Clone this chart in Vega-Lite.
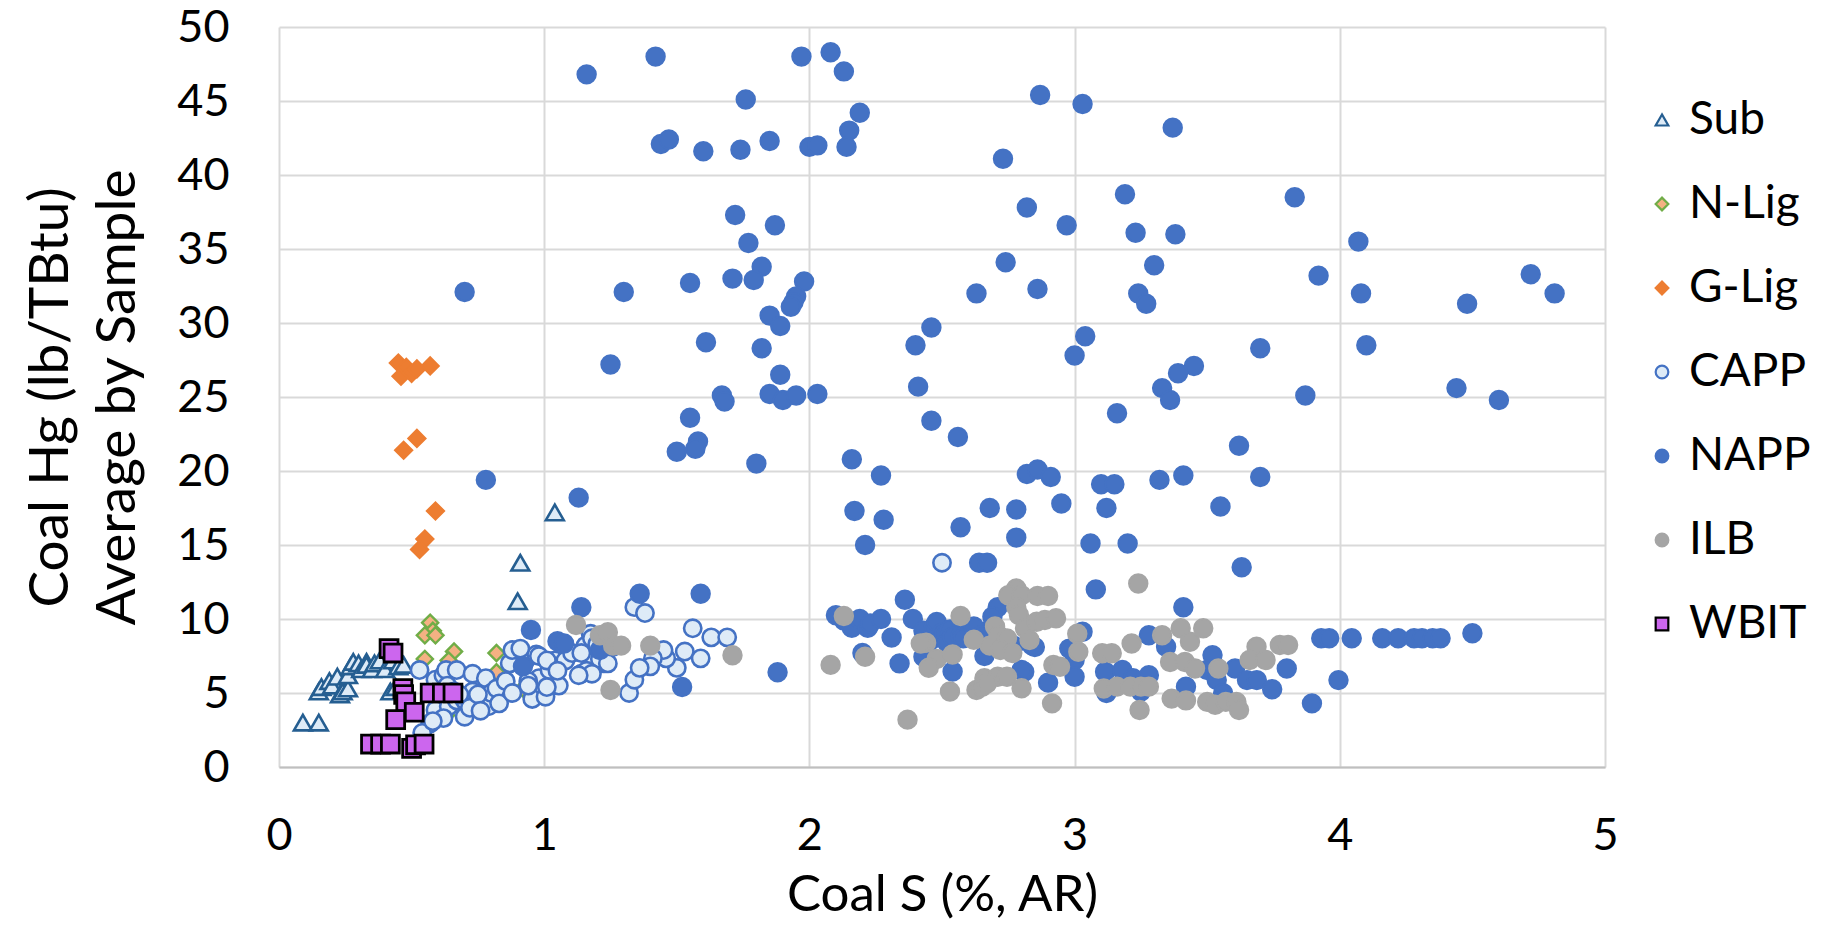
{
  "$schema": "https://vega.github.io/schema/vega-lite/v6.json",
  "width": 1326,
  "height": 740,
  "autosize": {"type": "none"},
  "padding": {"left": 279, "top": 27, "right": 232, "bottom": 163},
  "background": "white",
  "config": {
    "view": {"stroke": null},
    "axis": {
      "labelFont": "Lato", "labelFontSize": 45, "labelColor": "#000000", "labelFlush": false,
      "titleFont": "Lato", "titleFontSize": 51, "titleFontWeight": "normal", "titleColor": "#000000",
      "gridColor": "#D9D9D9", "gridWidth": 2, "ticks": false,
      "domainColor": "#BFBFBF", "domainWidth": 2
    },
    "legend": {
      "labelFont": "Lato", "labelFontSize": 46, "labelColor": "#000000",
      "symbolSize": 160, "symbolStrokeWidth": 2.2, "rowPadding": 38, "labelOffset": 4
    }
  },
  "data": {
    "values": [
      {"t":"Sub","s":0.09,"hg":3.0},{"t":"Sub","s":0.15,"hg":3.0},{"t":"Sub","s":0.15,"hg":5.1},{"t":"Sub","s":0.16,"hg":5.4},
      {"t":"Sub","s":0.19,"hg":5.8},{"t":"Sub","s":0.20,"hg":5.5},{"t":"Sub","s":0.22,"hg":6.1},{"t":"Sub","s":0.23,"hg":4.9},
      {"t":"Sub","s":0.24,"hg":5.1},{"t":"Sub","s":0.26,"hg":5.3},{"t":"Sub","s":0.26,"hg":6.2},{"t":"Sub","s":0.27,"hg":6.8},
      {"t":"Sub","s":0.28,"hg":7.1},{"t":"Sub","s":0.30,"hg":7.0},{"t":"Sub","s":0.31,"hg":6.6},{"t":"Sub","s":0.33,"hg":7.1},
      {"t":"Sub","s":0.33,"hg":6.9},{"t":"Sub","s":0.35,"hg":6.6},{"t":"Sub","s":0.36,"hg":7.0},{"t":"Sub","s":0.38,"hg":7.2},
      {"t":"Sub","s":0.40,"hg":6.6},{"t":"Sub","s":0.42,"hg":5.1},{"t":"Sub","s":0.43,"hg":7.2},{"t":"Sub","s":0.44,"hg":5.4},
      {"t":"Sub","s":0.45,"hg":6.8},{"t":"Sub","s":0.47,"hg":6.9},{"t":"Sub","s":0.90,"hg":11.2},{"t":"Sub","s":0.91,"hg":13.8},
      {"t":"Sub","s":1.04,"hg":17.2},
      {"t":"N-Lig","s":0.57,"hg":9.75},{"t":"N-Lig","s":0.58,"hg":9.2},{"t":"N-Lig","s":0.55,"hg":8.9},{"t":"N-Lig","s":0.59,"hg":8.9},
      {"t":"N-Lig","s":0.55,"hg":7.3},{"t":"N-Lig","s":0.66,"hg":7.8},{"t":"N-Lig","s":0.64,"hg":7.2},{"t":"N-Lig","s":0.82,"hg":7.7},
      {"t":"N-Lig","s":0.63,"hg":3.5},{"t":"N-Lig","s":0.82,"hg":6.4},{"t":"N-Lig","s":0.92,"hg":5.3},
      {"t":"G-Lig","s":0.45,"hg":27.3},{"t":"G-Lig","s":0.46,"hg":26.4},{"t":"G-Lig","s":0.48,"hg":27.0},{"t":"G-Lig","s":0.50,"hg":26.6},
      {"t":"G-Lig","s":0.52,"hg":26.9},{"t":"G-Lig","s":0.57,"hg":27.1},{"t":"G-Lig","s":0.47,"hg":21.4},{"t":"G-Lig","s":0.52,"hg":22.2},
      {"t":"G-Lig","s":0.59,"hg":17.3},{"t":"G-Lig","s":0.55,"hg":15.4},{"t":"G-Lig","s":0.53,"hg":14.7},
      {"t":"CAPP","s":0.53,"hg":6.55},{"t":"CAPP","s":0.59,"hg":5.9},{"t":"CAPP","s":0.62,"hg":6.2},{"t":"CAPP","s":0.63,"hg":6.55},
      {"t":"CAPP","s":0.67,"hg":6.55},{"t":"CAPP","s":0.635,"hg":5.5},{"t":"CAPP","s":0.60,"hg":4.75},{"t":"CAPP","s":0.59,"hg":3.85},
      {"t":"CAPP","s":0.57,"hg":2.95},{"t":"CAPP","s":0.54,"hg":2.3},{"t":"CAPP","s":0.64,"hg":4.1},{"t":"CAPP","s":0.67,"hg":4.5},
      {"t":"CAPP","s":0.70,"hg":3.4},{"t":"CAPP","s":0.70,"hg":4.5},{"t":"CAPP","s":0.73,"hg":5.1},{"t":"CAPP","s":0.73,"hg":6.3},
      {"t":"CAPP","s":0.77,"hg":4.3},{"t":"CAPP","s":0.78,"hg":6.0},{"t":"CAPP","s":0.79,"hg":4.1},{"t":"CAPP","s":0.80,"hg":5.0},
      {"t":"CAPP","s":0.82,"hg":5.3},{"t":"CAPP","s":0.855,"hg":5.8},{"t":"CAPP","s":0.87,"hg":7.0},{"t":"CAPP","s":0.90,"hg":7.9},
      {"t":"CAPP","s":0.93,"hg":7.2},{"t":"CAPP","s":0.955,"hg":4.6},{"t":"CAPP","s":0.97,"hg":7.6},{"t":"CAPP","s":0.98,"hg":6.0},
      {"t":"CAPP","s":1.005,"hg":4.75},{"t":"CAPP","s":1.02,"hg":6.55},{"t":"CAPP","s":1.055,"hg":5.5},{"t":"CAPP","s":1.04,"hg":7.2},
      {"t":"CAPP","s":1.08,"hg":7.2},{"t":"CAPP","s":1.105,"hg":7.7},{"t":"CAPP","s":1.14,"hg":6.3},{"t":"CAPP","s":1.156,"hg":8.2},
      {"t":"CAPP","s":1.175,"hg":9.0},{"t":"CAPP","s":1.19,"hg":7.2},{"t":"CAPP","s":1.225,"hg":7.0},{"t":"CAPP","s":1.257,"hg":8.1},
      {"t":"CAPP","s":1.32,"hg":5.0},{"t":"CAPP","s":1.34,"hg":10.8},{"t":"CAPP","s":1.34,"hg":5.9},{"t":"CAPP","s":0.83,"hg":4.3},
      {"t":"CAPP","s":0.88,"hg":5.0},{"t":"CAPP","s":0.94,"hg":5.8},{"t":"CAPP","s":0.88,"hg":7.9},{"t":"CAPP","s":0.91,"hg":8.0},
      {"t":"CAPP","s":0.98,"hg":7.5},{"t":"CAPP","s":1.01,"hg":7.2},{"t":"CAPP","s":0.94,"hg":5.5},{"t":"CAPP","s":1.01,"hg":5.4},
      {"t":"CAPP","s":1.05,"hg":6.5},{"t":"CAPP","s":1.14,"hg":7.7},{"t":"CAPP","s":1.18,"hg":8.7},{"t":"CAPP","s":1.20,"hg":8.3},
      {"t":"CAPP","s":1.16,"hg":6.5},{"t":"CAPP","s":1.21,"hg":7.3},{"t":"CAPP","s":1.24,"hg":7.0},{"t":"CAPP","s":1.18,"hg":6.3},
      {"t":"CAPP","s":1.13,"hg":6.2},{"t":"CAPP","s":0.66,"hg":5.1},{"t":"CAPP","s":0.68,"hg":4.9},{"t":"CAPP","s":0.72,"hg":4.0},
      {"t":"CAPP","s":0.75,"hg":4.9},{"t":"CAPP","s":0.76,"hg":3.8},{"t":"CAPP","s":0.62,"hg":3.3},{"t":"CAPP","s":0.58,"hg":3.1},
      {"t":"CAPP","s":1.38,"hg":10.4},{"t":"CAPP","s":1.56,"hg":9.37},{"t":"CAPP","s":1.63,"hg":8.76},{"t":"CAPP","s":1.69,"hg":8.76},
      {"t":"CAPP","s":1.53,"hg":7.8},{"t":"CAPP","s":1.59,"hg":7.34},{"t":"CAPP","s":1.50,"hg":6.7},{"t":"CAPP","s":1.46,"hg":7.34},
      {"t":"CAPP","s":1.45,"hg":7.9},{"t":"CAPP","s":1.41,"hg":7.34},{"t":"CAPP","s":1.40,"hg":6.8},{"t":"CAPP","s":1.36,"hg":6.7},
      {"t":"CAPP","s":2.50,"hg":13.8},
      {"t":"NAPP","s":1.16,"hg":46.8},{"t":"NAPP","s":1.42,"hg":48.0},{"t":"NAPP","s":1.76,"hg":45.1},{"t":"NAPP","s":1.97,"hg":48.0},
      {"t":"NAPP","s":2.08,"hg":48.3},{"t":"NAPP","s":2.13,"hg":47.0},{"t":"NAPP","s":2.19,"hg":44.2},{"t":"NAPP","s":2.15,"hg":43.0},
      {"t":"NAPP","s":2.14,"hg":41.9},{"t":"NAPP","s":2.00,"hg":41.9},{"t":"NAPP","s":2.03,"hg":42.0},{"t":"NAPP","s":1.44,"hg":42.1},
      {"t":"NAPP","s":1.47,"hg":42.4},{"t":"NAPP","s":1.60,"hg":41.6},{"t":"NAPP","s":1.74,"hg":41.7},{"t":"NAPP","s":1.85,"hg":42.3},
      {"t":"NAPP","s":2.87,"hg":45.4},{"t":"NAPP","s":3.03,"hg":44.8},{"t":"NAPP","s":3.37,"hg":43.2},{"t":"NAPP","s":2.73,"hg":41.1},
      {"t":"NAPP","s":3.19,"hg":38.7},{"t":"NAPP","s":3.83,"hg":38.5},{"t":"NAPP","s":1.72,"hg":37.3},{"t":"NAPP","s":1.87,"hg":36.6},
      {"t":"NAPP","s":2.82,"hg":37.8},{"t":"NAPP","s":2.97,"hg":36.6},{"t":"NAPP","s":3.23,"hg":36.1},{"t":"NAPP","s":3.38,"hg":36.0},
      {"t":"NAPP","s":4.07,"hg":35.5},{"t":"NAPP","s":1.77,"hg":35.4},{"t":"NAPP","s":1.82,"hg":33.8},{"t":"NAPP","s":1.79,"hg":32.9},
      {"t":"NAPP","s":1.71,"hg":33.0},{"t":"NAPP","s":1.55,"hg":32.7},{"t":"NAPP","s":1.30,"hg":32.1},{"t":"NAPP","s":1.98,"hg":32.8},
      {"t":"NAPP","s":1.95,"hg":31.8},{"t":"NAPP","s":1.94,"hg":31.4},{"t":"NAPP","s":1.93,"hg":31.1},{"t":"NAPP","s":1.85,"hg":30.5},
      {"t":"NAPP","s":1.89,"hg":29.8},{"t":"NAPP","s":0.70,"hg":32.1},{"t":"NAPP","s":2.63,"hg":32.0},{"t":"NAPP","s":2.74,"hg":34.1},
      {"t":"NAPP","s":2.86,"hg":32.3},{"t":"NAPP","s":3.24,"hg":32.0},{"t":"NAPP","s":3.27,"hg":31.3},{"t":"NAPP","s":3.30,"hg":33.9},
      {"t":"NAPP","s":3.92,"hg":33.2},{"t":"NAPP","s":4.08,"hg":32.0},{"t":"NAPP","s":4.72,"hg":33.3},{"t":"NAPP","s":4.81,"hg":32.0},
      {"t":"NAPP","s":4.48,"hg":31.3},{"t":"NAPP","s":1.61,"hg":28.7},{"t":"NAPP","s":1.82,"hg":28.3},{"t":"NAPP","s":2.40,"hg":28.5},
      {"t":"NAPP","s":2.46,"hg":29.7},{"t":"NAPP","s":3.04,"hg":29.1},{"t":"NAPP","s":3.00,"hg":27.8},{"t":"NAPP","s":3.70,"hg":28.3},
      {"t":"NAPP","s":4.10,"hg":28.5},{"t":"NAPP","s":1.25,"hg":27.2},{"t":"NAPP","s":3.45,"hg":27.1},{"t":"NAPP","s":3.39,"hg":26.6},
      {"t":"NAPP","s":3.33,"hg":25.6},{"t":"NAPP","s":3.36,"hg":24.8},{"t":"NAPP","s":4.44,"hg":25.6},{"t":"NAPP","s":4.60,"hg":24.8},
      {"t":"NAPP","s":3.87,"hg":25.1},{"t":"NAPP","s":2.41,"hg":25.7},{"t":"NAPP","s":1.89,"hg":26.5},{"t":"NAPP","s":1.85,"hg":25.2},
      {"t":"NAPP","s":1.90,"hg":24.8},{"t":"NAPP","s":1.95,"hg":25.1},{"t":"NAPP","s":2.03,"hg":25.2},{"t":"NAPP","s":1.67,"hg":25.1},
      {"t":"NAPP","s":1.68,"hg":24.7},{"t":"NAPP","s":1.55,"hg":23.6},{"t":"NAPP","s":3.16,"hg":23.9},{"t":"NAPP","s":2.46,"hg":23.4},
      {"t":"NAPP","s":2.56,"hg":22.3},{"t":"NAPP","s":1.58,"hg":22.0},{"t":"NAPP","s":1.57,"hg":21.5},{"t":"NAPP","s":1.50,"hg":21.3},
      {"t":"NAPP","s":3.62,"hg":21.7},{"t":"NAPP","s":2.16,"hg":20.8},{"t":"NAPP","s":1.80,"hg":20.5},{"t":"NAPP","s":0.78,"hg":19.4},
      {"t":"NAPP","s":2.27,"hg":19.7},{"t":"NAPP","s":2.82,"hg":19.8},{"t":"NAPP","s":2.86,"hg":20.1},{"t":"NAPP","s":2.91,"hg":19.6},
      {"t":"NAPP","s":3.32,"hg":19.4},{"t":"NAPP","s":3.41,"hg":19.7},{"t":"NAPP","s":3.70,"hg":19.6},{"t":"NAPP","s":3.10,"hg":19.1},
      {"t":"NAPP","s":3.15,"hg":19.1},{"t":"NAPP","s":1.13,"hg":18.2},{"t":"NAPP","s":2.95,"hg":17.8},{"t":"NAPP","s":3.55,"hg":17.6},
      {"t":"NAPP","s":2.68,"hg":17.5},{"t":"NAPP","s":2.78,"hg":17.4},{"t":"NAPP","s":3.12,"hg":17.5},{"t":"NAPP","s":2.17,"hg":17.3},
      {"t":"NAPP","s":2.28,"hg":16.7},{"t":"NAPP","s":2.57,"hg":16.2},{"t":"NAPP","s":2.21,"hg":15.0},{"t":"NAPP","s":2.78,"hg":15.5},
      {"t":"NAPP","s":3.06,"hg":15.1},{"t":"NAPP","s":3.20,"hg":15.1},{"t":"NAPP","s":2.64,"hg":13.8},{"t":"NAPP","s":2.67,"hg":13.8},
      {"t":"NAPP","s":3.63,"hg":13.5},{"t":"NAPP","s":3.08,"hg":12.0},{"t":"NAPP","s":2.36,"hg":11.3},{"t":"NAPP","s":1.36,"hg":11.7},
      {"t":"NAPP","s":1.59,"hg":11.7},{"t":"NAPP","s":1.14,"hg":10.8},{"t":"NAPP","s":3.41,"hg":10.8},
      {"t":"NAPP","s":0.95,"hg":9.26},{"t":"NAPP","s":1.05,"hg":8.5},{"t":"NAPP","s":1.075,"hg":8.35},{"t":"NAPP","s":0.92,"hg":6.8},
      {"t":"NAPP","s":1.21,"hg":7.9},{"t":"NAPP","s":1.52,"hg":5.4},{"t":"NAPP","s":1.88,"hg":6.4},
      {"t":"NAPP","s":2.10,"hg":10.25},{"t":"NAPP","s":2.13,"hg":9.9},{"t":"NAPP","s":2.16,"hg":9.4},{"t":"NAPP","s":2.19,"hg":10.0},
      {"t":"NAPP","s":2.22,"hg":9.4},{"t":"NAPP","s":2.23,"hg":9.7},{"t":"NAPP","s":2.27,"hg":10.0},{"t":"NAPP","s":2.31,"hg":8.75},
      {"t":"NAPP","s":2.34,"hg":7.0},{"t":"NAPP","s":2.39,"hg":10.0},{"t":"NAPP","s":2.43,"hg":9.2},{"t":"NAPP","s":2.43,"hg":7.45},
      {"t":"NAPP","s":2.46,"hg":8.6},{"t":"NAPP","s":2.47,"hg":9.5},{"t":"NAPP","s":2.48,"hg":9.8},{"t":"NAPP","s":2.50,"hg":9.05},
      {"t":"NAPP","s":2.51,"hg":9.0},{"t":"NAPP","s":2.52,"hg":8.4},{"t":"NAPP","s":2.53,"hg":9.3},{"t":"NAPP","s":2.54,"hg":8.8},
      {"t":"NAPP","s":2.54,"hg":6.45},{"t":"NAPP","s":2.57,"hg":8.85},{"t":"NAPP","s":2.59,"hg":9.0},{"t":"NAPP","s":2.44,"hg":7.6},
      {"t":"NAPP","s":2.20,"hg":7.7},
      {"t":"NAPP","s":2.61,"hg":9.03},{"t":"NAPP","s":2.58,"hg":8.7},{"t":"NAPP","s":2.66,"hg":7.5},{"t":"NAPP","s":2.81,"hg":6.44},
      {"t":"NAPP","s":2.90,"hg":5.7},{"t":"NAPP","s":2.85,"hg":8.1},{"t":"NAPP","s":2.77,"hg":8.2},{"t":"NAPP","s":2.71,"hg":10.8},
      {"t":"NAPP","s":2.69,"hg":10.15},{"t":"NAPP","s":3.03,"hg":9.14},{"t":"NAPP","s":2.98,"hg":8.0},{"t":"NAPP","s":3.00,"hg":7.23},
      {"t":"NAPP","s":3.00,"hg":6.1},{"t":"NAPP","s":3.115,"hg":6.44},{"t":"NAPP","s":3.18,"hg":6.55},{"t":"NAPP","s":3.22,"hg":6.0},
      {"t":"NAPP","s":3.28,"hg":6.2},{"t":"NAPP","s":3.25,"hg":5.1},{"t":"NAPP","s":3.12,"hg":5.0},{"t":"NAPP","s":3.28,"hg":8.9},
      {"t":"NAPP","s":3.345,"hg":8.13},{"t":"NAPP","s":3.42,"hg":5.43},{"t":"NAPP","s":3.52,"hg":7.56},{"t":"NAPP","s":3.50,"hg":6.55},
      {"t":"NAPP","s":3.536,"hg":5.87},{"t":"NAPP","s":3.56,"hg":4.98},{"t":"NAPP","s":3.605,"hg":6.66},{"t":"NAPP","s":3.65,"hg":5.87},
      {"t":"NAPP","s":3.687,"hg":5.87},{"t":"NAPP","s":3.745,"hg":5.25},{"t":"NAPP","s":3.80,"hg":6.66},{"t":"NAPP","s":3.895,"hg":4.3},
      {"t":"NAPP","s":2.68,"hg":9.3},{"t":"NAPP","s":2.62,"hg":9.5},{"t":"NAPP","s":2.65,"hg":8.9},{"t":"NAPP","s":2.80,"hg":6.55},
      {"t":"NAPP","s":2.84,"hg":8.2},
      {"t":"NAPP","s":3.93,"hg":8.7},{"t":"NAPP","s":3.96,"hg":8.7},{"t":"NAPP","s":4.045,"hg":8.7},{"t":"NAPP","s":4.16,"hg":8.7},
      {"t":"NAPP","s":4.22,"hg":8.7},{"t":"NAPP","s":4.28,"hg":8.7},{"t":"NAPP","s":4.31,"hg":8.7},{"t":"NAPP","s":4.35,"hg":8.7},
      {"t":"NAPP","s":4.38,"hg":8.7},{"t":"NAPP","s":4.50,"hg":9.04},{"t":"NAPP","s":3.995,"hg":5.87},
      {"t":"ILB","s":1.12,"hg":9.6},{"t":"ILB","s":1.21,"hg":8.9},{"t":"ILB","s":1.24,"hg":9.1},{"t":"ILB","s":1.26,"hg":8.2},
      {"t":"ILB","s":1.25,"hg":5.2},{"t":"ILB","s":1.29,"hg":8.2},{"t":"ILB","s":1.40,"hg":8.2},{"t":"ILB","s":1.71,"hg":7.55},
      {"t":"ILB","s":2.08,"hg":6.9},{"t":"ILB","s":2.13,"hg":10.2},{"t":"ILB","s":2.21,"hg":7.45},{"t":"ILB","s":2.37,"hg":3.2},
      {"t":"ILB","s":2.57,"hg":10.2},{"t":"ILB","s":2.44,"hg":8.4},{"t":"ILB","s":2.48,"hg":7.3},{"t":"ILB","s":2.45,"hg":6.7},
      {"t":"ILB","s":2.54,"hg":7.6},{"t":"ILB","s":2.53,"hg":5.1},{"t":"ILB","s":2.63,"hg":5.2},{"t":"ILB","s":2.62,"hg":8.6},
      {"t":"ILB","s":2.42,"hg":8.35},{"t":"ILB","s":2.65,"hg":5.4},{"t":"ILB","s":2.68,"hg":8.2},{"t":"ILB","s":2.66,"hg":6.0},
      {"t":"ILB","s":2.78,"hg":12.07},{"t":"ILB","s":2.75,"hg":11.6},{"t":"ILB","s":2.80,"hg":11.6},{"t":"ILB","s":2.86,"hg":11.55},
      {"t":"ILB","s":2.90,"hg":11.55},{"t":"ILB","s":2.78,"hg":10.8},{"t":"ILB","s":2.79,"hg":10.27},{"t":"ILB","s":2.70,"hg":9.5},
      {"t":"ILB","s":2.713,"hg":8.9},{"t":"ILB","s":2.745,"hg":8.69},{"t":"ILB","s":2.813,"hg":9.37},{"t":"ILB","s":2.857,"hg":9.82},
      {"t":"ILB","s":2.888,"hg":9.93},{"t":"ILB","s":2.93,"hg":10.05},{"t":"ILB","s":2.83,"hg":8.58},{"t":"ILB","s":2.72,"hg":7.9},
      {"t":"ILB","s":2.765,"hg":7.7},{"t":"ILB","s":2.71,"hg":6.1},{"t":"ILB","s":2.745,"hg":6.1},{"t":"ILB","s":2.67,"hg":5.66},
      {"t":"ILB","s":2.80,"hg":5.32},{"t":"ILB","s":2.915,"hg":4.3},{"t":"ILB","s":2.92,"hg":6.89},{"t":"ILB","s":2.945,"hg":6.77},
      {"t":"ILB","s":3.01,"hg":9.0},{"t":"ILB","s":3.014,"hg":7.79},{"t":"ILB","s":3.24,"hg":12.4},{"t":"ILB","s":3.104,"hg":7.68},
      {"t":"ILB","s":3.14,"hg":7.68},{"t":"ILB","s":3.11,"hg":5.3},{"t":"ILB","s":3.16,"hg":5.43},{"t":"ILB","s":3.21,"hg":5.43},
      {"t":"ILB","s":3.25,"hg":5.43},{"t":"ILB","s":3.28,"hg":5.43},{"t":"ILB","s":3.215,"hg":8.35},{"t":"ILB","s":3.245,"hg":3.85},
      {"t":"ILB","s":3.33,"hg":8.9},{"t":"ILB","s":3.40,"hg":9.37},{"t":"ILB","s":3.435,"hg":8.46},{"t":"ILB","s":3.485,"hg":9.37},
      {"t":"ILB","s":3.36,"hg":7.1},{"t":"ILB","s":3.416,"hg":7.1},{"t":"ILB","s":3.454,"hg":6.66},{"t":"ILB","s":3.366,"hg":4.62},
      {"t":"ILB","s":3.42,"hg":4.5},{"t":"ILB","s":3.542,"hg":6.66},{"t":"ILB","s":3.50,"hg":4.4},{"t":"ILB","s":3.53,"hg":4.2},
      {"t":"ILB","s":3.57,"hg":4.4},{"t":"ILB","s":3.61,"hg":4.4},{"t":"ILB","s":3.62,"hg":3.85},{"t":"ILB","s":3.686,"hg":8.13},
      {"t":"ILB","s":3.66,"hg":7.23},{"t":"ILB","s":3.72,"hg":7.23},{"t":"ILB","s":3.774,"hg":8.24},{"t":"ILB","s":3.805,"hg":8.24},
      {"t":"WBIT","s":0.415,"hg":8.0},{"t":"WBIT","s":0.43,"hg":7.7},{"t":"WBIT","s":0.467,"hg":5.3},{"t":"WBIT","s":0.47,"hg":4.9},
      {"t":"WBIT","s":0.478,"hg":4.4},{"t":"WBIT","s":0.51,"hg":3.7},{"t":"WBIT","s":0.44,"hg":3.2},{"t":"WBIT","s":0.57,"hg":5.0},
      {"t":"WBIT","s":0.616,"hg":5.0},{"t":"WBIT","s":0.656,"hg":5.0},{"t":"WBIT","s":0.345,"hg":1.55},{"t":"WBIT","s":0.383,"hg":1.55},
      {"t":"WBIT","s":0.42,"hg":1.55},{"t":"WBIT","s":0.50,"hg":1.26},{"t":"WBIT","s":0.515,"hg":1.5},{"t":"WBIT","s":0.547,"hg":1.55}
    ]
  },
  "encoding": {
    "x": {
      "field": "s", "type": "quantitative",
      "scale": {"domain": [0, 5], "nice": false},
      "axis": {"values": [0, 1, 2, 3, 4, 5], "title": "Coal S (%, AR)", "labelPadding": 46, "titlePadding": 12, "grid": true}
    },
    "y": {
      "field": "hg", "type": "quantitative",
      "scale": {"domain": [0, 50], "nice": false},
      "axis": {
        "values": [0, 5, 10, 15, 20, 25, 30, 35, 40, 45, 50],
        "title": ["Coal Hg (lb/TBtu)", "Average by Sample"],
        "titleFontSize": 55, "titleLineHeight": 67,
        "labelPadding": 50, "titlePadding": 30, "domain": false
      }
    },
    "shape": {
      "field": "t", "type": "nominal",
      "scale": {
        "domain": ["Sub", "N-Lig", "G-Lig", "CAPP", "NAPP", "ILB", "WBIT"],
        "range": ["triangle-up", "diamond", "diamond", "circle", "circle", "circle", "square"]
      },
      "legend": {"title": null, "orient": "none", "legendX": 1360, "legendY": 70}
    },
    "fill": {
      "field": "t", "type": "nominal",
      "scale": {
        "domain": ["Sub", "N-Lig", "G-Lig", "CAPP", "NAPP", "ILB", "WBIT"],
        "range": ["#DEEBF7", "#F4B183", "#ED7D31", "#DEEBF7", "#4472C4", "#A5A5A5", "#CC66EE"]
      },
      "legend": {"title": null, "orient": "none", "legendX": 1360, "legendY": 70}
    },
    "stroke": {
      "field": "t", "type": "nominal",
      "scale": {
        "domain": ["Sub", "N-Lig", "G-Lig", "CAPP", "NAPP", "ILB", "WBIT"],
        "range": ["#255E91", "#70AD47", "#ED7D31", "#4472C4", "#4472C4", "#A5A5A5", "#000000"]
      },
      "legend": {"title": null, "orient": "none", "legendX": 1360, "legendY": 70}
    }
  },
  "layer": [
    {"transform": [{"filter": "datum.t === 'Sub'"}], "mark": {"type": "point", "filled": true, "opacity": 1, "strokeWidth": 2.6, "size": 320}},
    {"transform": [{"filter": "datum.t === 'N-Lig'"}], "mark": {"type": "point", "filled": true, "opacity": 1, "strokeWidth": 2.4, "size": 260}},
    {"transform": [{"filter": "datum.t === 'G-Lig'"}], "mark": {"type": "point", "filled": true, "opacity": 1, "strokeWidth": 2, "size": 300}},
    {"transform": [{"filter": "datum.t === 'CAPP'"}], "mark": {"type": "point", "filled": true, "opacity": 1, "strokeWidth": 2.6, "size": 300}},
    {"transform": [{"filter": "datum.t === 'NAPP'"}], "mark": {"type": "point", "filled": true, "opacity": 1, "strokeWidth": 2, "size": 340}},
    {"transform": [{"filter": "datum.t === 'ILB'"}], "mark": {"type": "point", "filled": true, "opacity": 1, "strokeWidth": 2, "size": 340}},
    {"transform": [{"filter": "datum.t === 'WBIT'"}], "mark": {"type": "point", "filled": true, "opacity": 1, "strokeWidth": 2.8, "size": 320}}
  ]
}
